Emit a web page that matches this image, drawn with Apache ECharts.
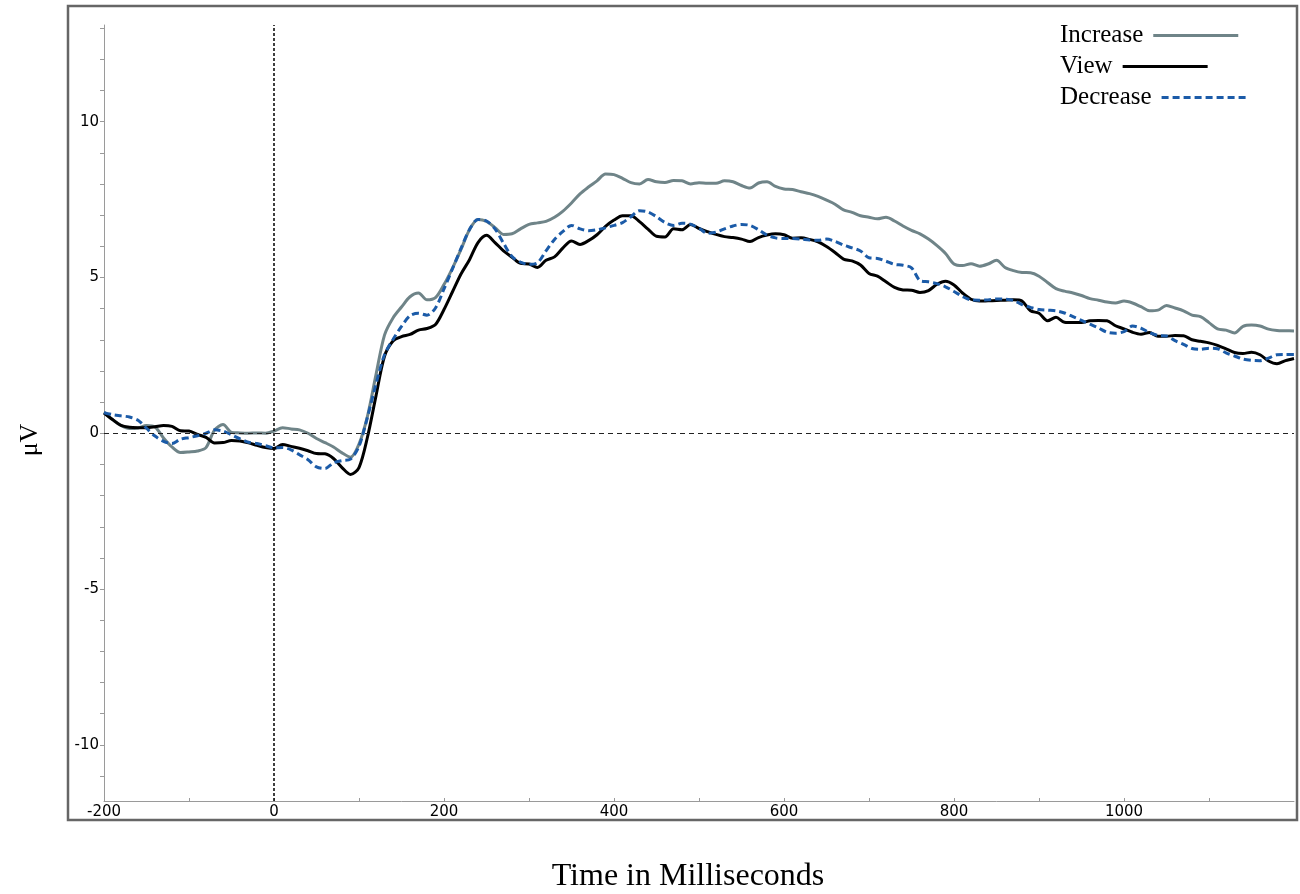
<!DOCTYPE html>
<html><head><meta charset="utf-8">
<script src="https://cdn.jsdelivr.net/npm/echarts@6/dist/echarts.min.js"></script>
<style>html,body{margin:0;padding:0;background:#fff}#c{width:1300px;height:894px}</style>
</head><body><div id="c"></div>
<script>
const timesMs = [
-200,-190,-180,-170,-160,-150,-140,-130,-120,-110,
-100,-90,-80,-70,-60,-50,-40,-30,-20,-10,
0,10,20,30,40,50,60,70,80,90,
100,110,120,130,140,150,160,170,180,190,
200,210,220,230,240,250,260,270,280,290,
300,310,320,330,340,350,360,370,380,390,
400,410,420,430,440,450,460,470,480,490,
500,510,520,530,540,550,560,570,580,590,
600,610,620,630,640,650,660,670,680,690,
700,710,720,730,740,750,760,770,780,790,
800,810,820,830,840,850,860,870,880,890,
900,910,920,930,940,950,960,970,980,990,
1000,1010,1020,1030,1040,1050,1060,1070,1080,1090,
1100,1110,1120,1130,1140,1150,1160,1170,1180,1190,
1200];
const increase = [
0.68,0.44,0.25,0.15,0.17,0.25,0.2,-0.15,-0.44,-0.62,
-0.6,-0.57,-0.46,0.1,0.28,0.03,0.01,0.0,0.01,0.0,
0.07,0.18,0.14,0.11,0.0,-0.17,-0.3,-0.44,-0.63,-0.77,
-0.35,0.55,1.88,3.15,3.7,4.05,4.38,4.5,4.28,4.35,
4.77,5.3,5.9,6.53,6.86,6.8,6.6,6.38,6.4,6.56,
6.7,6.75,6.8,6.93,7.13,7.39,7.68,7.9,8.1,8.32,
8.3,8.18,8.04,8.0,8.14,8.07,8.05,8.11,8.1,8.0,
8.04,8.02,8.02,8.1,8.07,7.95,7.87,8.03,8.07,7.92,
7.84,7.82,7.75,7.69,7.6,7.48,7.35,7.17,7.09,6.98,
6.93,6.88,6.93,6.81,6.65,6.51,6.4,6.23,6.02,5.77,
5.43,5.38,5.44,5.36,5.43,5.55,5.32,5.22,5.16,5.15,
5.04,4.84,4.64,4.56,4.5,4.42,4.32,4.27,4.21,4.18,
4.24,4.18,4.06,3.93,3.95,4.1,4.02,3.93,3.79,3.74,
3.55,3.35,3.31,3.22,3.43,3.47,3.44,3.34,3.3,3.29,
3.28];
const view = [
0.65,0.44,0.25,0.19,0.18,0.18,0.21,0.25,0.22,0.08,
0.07,-0.04,-0.13,-0.31,-0.3,-0.23,-0.25,-0.31,-0.39,-0.46,
-0.49,-0.36,-0.42,-0.48,-0.56,-0.65,-0.66,-0.81,-1.1,-1.32,
-1.1,-0.12,1.2,2.47,2.96,3.1,3.17,3.31,3.36,3.49,
3.97,4.54,5.11,5.57,6.12,6.35,6.12,5.85,5.65,5.45,
5.43,5.32,5.55,5.66,5.95,6.17,6.06,6.18,6.37,6.64,
6.84,6.98,6.98,6.79,6.55,6.32,6.3,6.56,6.53,6.7,
6.57,6.47,6.38,6.31,6.28,6.23,6.15,6.28,6.36,6.4,
6.37,6.26,6.27,6.22,6.14,5.99,5.8,5.59,5.53,5.4,
5.13,5.04,4.86,4.68,4.6,4.59,4.52,4.58,4.78,4.88,
4.76,4.5,4.3,4.24,4.25,4.26,4.27,4.28,4.24,3.93,
3.85,3.61,3.72,3.56,3.55,3.55,3.61,3.62,3.61,3.45,
3.35,3.24,3.18,3.23,3.11,3.11,3.14,3.13,3.0,2.95,
2.9,2.82,2.71,2.59,2.56,2.6,2.52,2.32,2.23,2.33,
2.4];
const decrease = [
0.66,0.6,0.56,0.52,0.42,0.16,-0.09,-0.26,-0.33,-0.19,
-0.14,-0.08,0.0,0.11,0.07,-0.05,-0.18,-0.29,-0.33,-0.4,
-0.47,-0.46,-0.53,-0.69,-0.85,-1.08,-1.13,-0.95,-0.88,-0.83,
-0.42,0.52,1.58,2.52,3.01,3.43,3.77,3.85,3.79,4.02,
4.63,5.28,5.93,6.54,6.86,6.81,6.56,6.1,5.67,5.49,
5.42,5.47,5.85,6.22,6.48,6.67,6.56,6.5,6.53,6.59,
6.67,6.76,6.95,7.14,7.1,6.95,6.76,6.67,6.74,6.71,
6.58,6.42,6.45,6.56,6.65,6.7,6.67,6.53,6.36,6.27,
6.25,6.25,6.23,6.2,6.19,6.23,6.16,6.04,5.95,5.85,
5.63,5.61,5.52,5.42,5.39,5.31,4.9,4.86,4.8,4.7,
4.55,4.39,4.28,4.27,4.28,4.31,4.3,4.26,4.13,4.04,
3.97,3.95,3.93,3.86,3.74,3.62,3.5,3.38,3.24,3.21,
3.26,3.44,3.37,3.23,3.14,3.12,2.97,2.85,2.72,2.69,
2.73,2.71,2.58,2.48,2.38,2.34,2.33,2.41,2.52,2.53,
2.53];
const seriesNames = ['Increase','View','Decrease'];
const xTickLabels = [-200,0,200,400,600,800,1000];
const xTicks = [-200,-100,0,100,200,300,400,500,600,700,800,900,1000,1100];
const yTickLabels = [-10,-5,0,5,10];
const yTicks = [-11,-10,-9,-8,-7,-6,-5,-4,-3,-2,-1,0,1,2,3,4,5,6,7,8,9,10,11,12,13];
const xTitle = 'Time in Milliseconds';
const yTitle = 'μV';

function pairs(vals){ return timesMs.map((t,i)=>[t, vals[i]]); }

const chart = echarts.init(document.getElementById('c'), null, {renderer:'canvas'});
const tickFont = {fontFamily:'DejaVu Sans', fontSize:15, color:'#000'};
const legendTops = [23, 54, 85];
const legends = seriesNames.map((n, i) => ({
  orient:'horizontal', left:1060, top:legendTops[i], align:'right', padding:0,
  itemWidth:85, itemHeight:14, itemGap:0,
  itemStyle:{opacity:0},
  lineStyle:{width:3},
  textStyle:{fontFamily:'Liberation Serif', fontSize:25, color:'#000', padding:[0,5,0,0]},
  data:[n]
}));
chart.setOption({
  animation:false,
  backgroundColor:'#fff',
  grid:{left:104, right:6, top:25, bottom:93, containLabel:false},
  legend:legends,
  xAxis:{
    type:'value', min:-200, max:1200,
    axisLine:{show:true, onZero:false, lineStyle:{color:'#9a9a9a', width:1}},
    axisTick:{show:true, inside:true, length:3, customValues:xTicks, lineStyle:{color:'#9a9a9a'}},
    axisLabel:Object.assign({customValues:xTickLabels, margin:4, formatter:(v)=>String(v)}, tickFont),
    splitLine:{show:false}
  },
  yAxis:{
    type:'value', min:-11.8, max:13.1,
    axisLine:{show:true, onZero:false, lineStyle:{color:'#9a9a9a', width:1}},
    axisTick:{show:true, inside:false, length:4, customValues:yTicks, lineStyle:{color:'#9a9a9a'}},
    axisLabel:Object.assign({customValues:yTickLabels, margin:5, formatter:(v)=>String(v)}, tickFont),
    splitLine:{show:false}
  },
  graphic:[
    {type:'rect', shape:{x:68, y:6, width:1229, height:814}, style:{fill:'none', stroke:'#666', lineWidth:2.5}, silent:true, z:-1},
    {type:'text', x:688, y:877, style:{text:xTitle, fontFamily:'Liberation Serif', fontSize:32, fill:'#000', align:'center', verticalAlign:'middle'}},
    {type:'text', x:30, y:440, rotation:Math.PI/2, style:{text:yTitle, fontFamily:'Liberation Serif', fontSize:26, fill:'#000', align:'center', verticalAlign:'middle'}}
  ],
  series:[
    {name:seriesNames[0], type:'line', data:pairs(increase), symbol:'none', showSymbol:false, smooth:0.3,
     lineStyle:{color:'#6f8488', width:3}, itemStyle:{color:'#6f8488'}, z:2,
     markLine:{silent:true, symbol:'none', label:{show:false},
       data:[
         {xAxis:0, lineStyle:{type:[3,2], color:'#000', width:1.5}},
         {yAxis:0, lineStyle:{type:[5,4], color:'#222', width:1}}
       ]}},
    {name:seriesNames[1], type:'line', data:pairs(view), symbol:'none', showSymbol:false, smooth:0.3,
     lineStyle:{color:'#000', width:3}, itemStyle:{color:'#000'}, z:3},
    {name:seriesNames[2], type:'line', data:pairs(decrease), symbol:'none', showSymbol:false, smooth:0.3,
     lineStyle:{color:'#1b5ba8', width:3, type:[7,4]}, itemStyle:{color:'#1b5ba8'}, z:4}
  ]
});
</script></body></html>
